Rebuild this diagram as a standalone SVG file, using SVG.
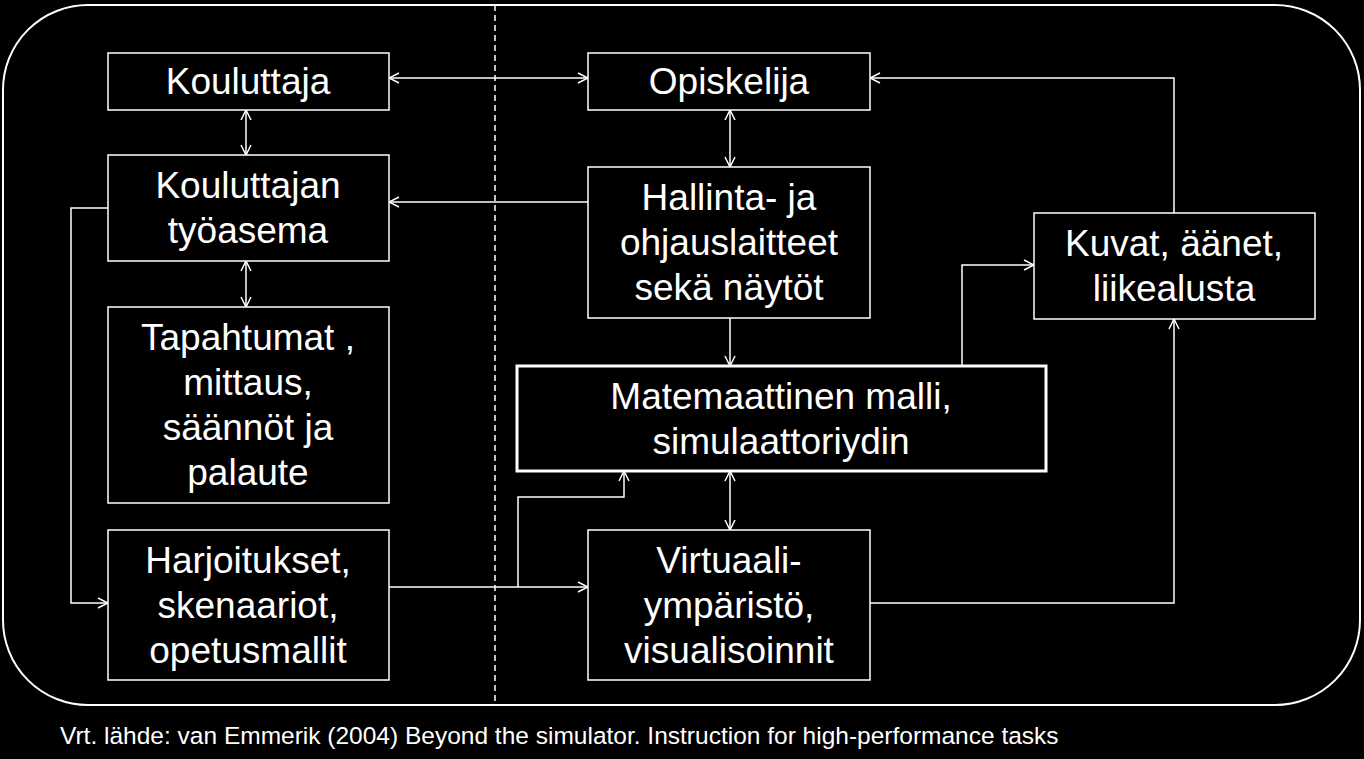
<svg xmlns="http://www.w3.org/2000/svg" width="1364" height="759" viewBox="0 0 1364 759">
<defs>
<style>
.b{fill:#000;stroke:#fff;stroke-width:1.5}
.t{fill:#fff;font-family:"Liberation Sans",Arial,sans-serif;font-size:37px;text-anchor:middle}
.c{fill:none;stroke:#fff;stroke-width:1.5}
</style>
<marker id="a" viewBox="0 0 12 12" refX="11" refY="6" markerWidth="12" markerHeight="12" markerUnits="userSpaceOnUse" orient="auto-start-reverse">
<polyline points="1,1 11,6 1,11" fill="none" stroke="#fff" stroke-width="1.5"/>
</marker>
</defs>
<rect width="1364" height="759" fill="#000"/>
<rect x="3" y="5" width="1357" height="700" rx="85" fill="none" stroke="#fff" stroke-width="2"/>
<line x1="495" y1="5" x2="495" y2="705" stroke="#fff" stroke-width="1.5" stroke-dasharray="6,4"/>
<g id="connectors">
<line class="c" x1="389" y1="78" x2="588" y2="78" marker-start="url(#a)" marker-end="url(#a)"/>
<line class="c" x1="246" y1="110" x2="246" y2="155" marker-start="url(#a)" marker-end="url(#a)"/>
<line class="c" x1="246" y1="261" x2="246" y2="307" marker-start="url(#a)" marker-end="url(#a)"/>
<line class="c" x1="730" y1="110" x2="730" y2="167" marker-start="url(#a)" marker-end="url(#a)"/>
<line class="c" x1="588" y1="202" x2="389" y2="202" marker-end="url(#a)"/>
<line class="c" x1="730" y1="318" x2="730" y2="366" marker-end="url(#a)"/>
<line class="c" x1="730" y1="471" x2="730" y2="530" marker-start="url(#a)" marker-end="url(#a)"/>
<polyline class="c" points="962,366 962,265 1034,265" marker-end="url(#a)"/>
<polyline class="c" points="1174,213 1174,78 870,78" marker-end="url(#a)"/>
<polyline class="c" points="870,603 1174,603 1174,319" marker-end="url(#a)"/>
<polyline class="c" points="108,208 71,208 71,603 108,603" marker-end="url(#a)"/>
<line class="c" x1="389" y1="587" x2="588" y2="587" marker-end="url(#a)"/>
<polyline class="c" points="518,587 518,497 624,497 624,471" marker-end="url(#a)"/>
</g>
<g id="kouluttaja"><rect class="b" x="108" y="53" width="281" height="57"/><text class="t" x="248" y="94">Kouluttaja</text></g>
<g id="tyoasema"><rect class="b" x="108" y="155" width="281" height="106"/><text class="t" x="248" y="198">Kouluttajan</text><text class="t" x="248" y="243">työasema</text></g>
<g id="tapahtumat"><rect class="b" x="108" y="307" width="281" height="196"/><text class="t" x="248" y="350">Tapahtumat ,</text><text class="t" x="248" y="395">mittaus,</text><text class="t" x="248" y="440">säännöt ja</text><text class="t" x="248" y="485">palaute</text></g>
<g id="harjoitukset"><rect class="b" x="108" y="530" width="281" height="150"/><text class="t" x="248" y="573">Harjoitukset,</text><text class="t" x="248" y="618">skenaariot,</text><text class="t" x="248" y="663">opetusmallit</text></g>
<g id="opiskelija"><rect class="b" x="588" y="53" width="282" height="57"/><text class="t" x="729" y="94">Opiskelija</text></g>
<g id="hallinta"><rect class="b" x="588" y="167" width="282" height="151"/><text class="t" x="729" y="210">Hallinta- ja</text><text class="t" x="729" y="255">ohjauslaitteet</text><text class="t" x="729" y="300">sekä näytöt</text></g>
<g id="malli"><rect class="b" x="517" y="366" width="529" height="105" style="stroke-width:3"/><text class="t" x="781" y="409">Matemaattinen malli,</text><text class="t" x="781" y="454">simulaattoriydin</text></g>
<g id="virtuaali"><rect class="b" x="588" y="530" width="282" height="150"/><text class="t" x="729" y="573">Virtuaali-</text><text class="t" x="729" y="618">ympäristö,</text><text class="t" x="729" y="663">visualisoinnit</text></g>
<g id="kuvat"><rect class="b" x="1034" y="213" width="281" height="106"/><text class="t" x="1174" y="256">Kuvat, äänet,</text><text class="t" x="1174" y="301">liikealusta</text></g>
<text x="60" y="744" fill="#fff" font-family="Liberation Sans,Arial,sans-serif" font-size="24.5">Vrt. lähde: van Emmerik (2004) Beyond the simulator. Instruction for high-performance tasks</text>
</svg>
